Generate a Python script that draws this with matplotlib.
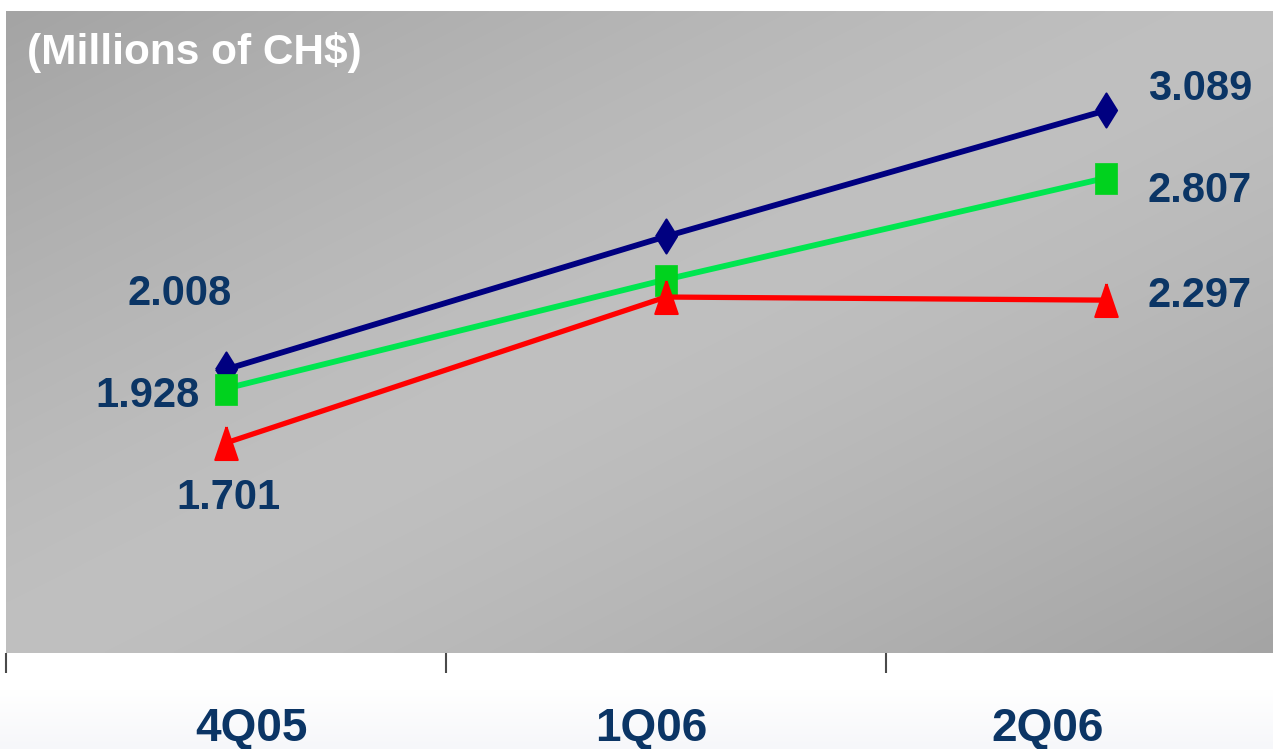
#!/usr/bin/env python3

import numpy as np
import matplotlib.pyplot as plt
from matplotlib.markers import MarkerStyle

plt.rcParams['font.family'] = ['Liberation Sans', 'DejaVu Sans']

QUARTERS = ["4Q05", "1Q06", "2Q06"]
SERIES_BLUE = [2.008, 2.563, 3.089]
SERIES_GREEN = [1.928, 2.383, 2.807]
SERIES_RED = [1.701, 2.310, 2.297]

UNIT_LABEL = "(Millions of CH$)"

NAVY_TEXT = '#0b3565'

# label offsets (pixels) from the first and last point of each series
OFFSETS = {
    'blue': [(-46, 64), (94, 10)],
    'green': [(-78, -18), (94, -24)],
    'red': [(2, -66), (94, -7)],
}

W, H, DPI = 1273, 749, 100


def px(v):
    return v * 72.0 / DPI


def marker(verts):
    return MarkerStyle(verts, joinstyle='round')


DIAMOND = marker([(-0.62, 0), (0, 1), (0.62, 0), (0, -1), (-0.62, 0)])
SQUARE = marker([(-0.7, -1), (0.7, -1), (0.7, 1), (-0.7, 1), (-0.7, -1)])
TRIANGLE = marker([(0, 1), (-0.68, -1), (0.68, -1), (0, 1)])


def background(ax, xlim, ylim):
    gx = np.linspace(0, 1, 400)
    gy = np.linspace(0, 1, 240)
    X, Y = np.meshgrid(gx, gy)
    dev = np.abs(X + Y - 1.0)
    light, dark = 0xc0 / 255, 0xa4 / 255
    val = light - (light - dark) * dev ** 1.3
    img = np.dstack([val, val, val])
    ax.imshow(img, extent=(xlim[0], xlim[1], ylim[0], ylim[1]),
              aspect='auto', origin='upper', zorder=0, interpolation='bilinear')


def main():
    fig = plt.figure(figsize=(W / DPI, H / DPI), dpi=DPI)

    # faint tint at the bottom of the page
    fade = fig.add_axes([0, 0, 1, 60 / H], zorder=-5)
    fy = np.linspace(0, 1, 60)[:, None, None]
    top, bot = np.array([1.0, 1.0, 1.0]), np.array([0xf6, 0xf7, 0xfa]) / 255
    fade.imshow(top + (bot - top) * fy * np.ones((1, 10, 1)),
                aspect='auto', extent=(0, 1, 0, 1))
    fade.axis('off')

    ax = fig.add_axes([6 / W, 96 / H, 1267 / W, 642 / H])
    xlim = (-0.5, 2.38)
    ylim = (0.824, 3.504)
    background(ax, xlim, ylim)
    ax.set_xlim(*xlim)
    ax.set_ylim(*ylim)

    x = np.arange(len(QUARTERS))
    ax.plot(x, SERIES_BLUE, color='#000080', lw=4.2, marker=DIAMOND,
            ms=px(34), mfc='#000080', mec='#000080', mew=1.5, zorder=3)
    ax.plot(x, SERIES_GREEN, color='#00e650', lw=4.2, marker=SQUARE,
            ms=px(31), mfc='#00d21e', mec='#00d21e', mew=0.5, zorder=4)
    ax.plot(x, SERIES_RED, color='#ff0000', lw=3.8, marker=TRIANGLE,
            ms=px(33), mfc='#ff0000', mec='#ff0000', mew=1.5, zorder=5)

    for key, vals in (('blue', SERIES_BLUE), ('green', SERIES_GREEN),
                      ('red', SERIES_RED)):
        for idx, (dx, dy) in zip((0, len(vals) - 1), OFFSETS[key]):
            ax.annotate(f"{vals[idx]:.3f}", xy=(x[idx], vals[idx]),
                        xytext=(px(dx), px(dy)), textcoords='offset points',
                        ha='center', va='baseline', fontsize=30,
                        fontweight='bold', color=NAVY_TEXT, zorder=6)

    fig.text(27 / W, 1 - 64 / H, UNIT_LABEL, ha='left', va='baseline',
             fontsize=30.5, fontweight='bold', color='white')

    # category boundaries as short ticks under the plot
    ax.set_xticks([-0.5, 0.5, 1.5])
    ax.set_xticklabels([])
    ax.set_yticks([])
    ax.tick_params(axis='x', direction='out', length=px(20), width=1.5,
                   color='#4a4a4a')
    for s in ax.spines.values():
        s.set_visible(False)

    label_x = [251, 651, 1048]
    for q, lx in zip(QUARTERS, label_x):
        fig.text(lx / W, 1 - 741 / H, q, ha='center', va='baseline',
                 fontsize=33, fontweight='bold', color=NAVY_TEXT)

    fig.savefig("out.png", dpi=DPI)


main()
